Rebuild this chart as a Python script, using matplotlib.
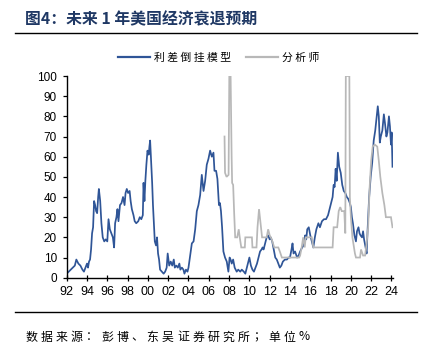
import matplotlib
matplotlib.use("Agg")
import matplotlib.pyplot as plt
from matplotlib.lines import Line2D
from matplotlib.font_manager import FontProperties
import numpy as np

# ---------------- data ----------------
model_years = [
    1992.0, 1992.2, 1992.4, 1992.6, 1992.8, 1992.95, 1993.15, 1993.35, 1993.55, 1993.7,
    1993.85, 1994.0, 1994.1, 1994.2, 1994.3, 1994.4, 1994.5, 1994.6, 1994.7, 1994.8,
    1994.9, 1995.0, 1995.1, 1995.17, 1995.3, 1995.42, 1995.55, 1995.7, 1995.85, 1996.0,
    1996.12, 1996.25, 1996.4, 1996.55, 1996.67, 1996.77, 1996.9, 1997.0, 1997.1, 1997.25,
    1997.4, 1997.55, 1997.7, 1997.8, 1997.92, 1998.05, 1998.2, 1998.3, 1998.42, 1998.58,
    1998.7, 1998.85, 1999.05, 1999.2, 1999.35, 1999.5, 1999.57, 1999.66, 1999.75, 1999.85,
    1999.96, 2000.08, 2000.15, 2000.22, 2000.32, 2000.42, 2000.5, 2000.58, 2000.68, 2000.8,
    2000.9, 2001.0, 2001.1, 2001.2, 2001.38, 2001.55, 2001.7, 2001.85, 2001.95, 2002.1,
    2002.25, 2002.4, 2002.55, 2002.65, 2002.8, 2002.95, 2003.1, 2003.2, 2003.35, 2003.5,
    2003.6, 2003.75, 2003.9, 2004.0, 2004.16, 2004.33, 2004.5, 2004.66, 2004.82, 2004.98,
    2005.15, 2005.31, 2005.48, 2005.64, 2005.8, 2005.97, 2006.13, 2006.3, 2006.46, 2006.56,
    2006.72, 2006.85, 2007.0, 2007.1, 2007.2, 2007.31, 2007.44, 2007.6, 2007.77, 2007.93,
    2008.05, 2008.15, 2008.26, 2008.4, 2008.55, 2008.75, 2008.9, 2009.1, 2009.25, 2009.45,
    2009.6, 2009.75, 2009.9, 2010.0, 2010.15, 2010.3, 2010.45, 2010.6, 2010.75, 2010.9,
    2011.05, 2011.2, 2011.3, 2011.4, 2011.55, 2011.7, 2011.85, 2012.0, 2012.1, 2012.25,
    2012.4, 2012.55, 2012.7, 2012.85, 2013.0, 2013.15, 2013.3, 2013.5, 2013.7, 2013.85,
    2014.0, 2014.15, 2014.25, 2014.35, 2014.5, 2014.7, 2014.85, 2015.0, 2015.2, 2015.35,
    2015.5, 2015.6, 2015.7, 2015.85, 2016.0, 2016.15, 2016.3, 2016.45, 2016.6, 2016.8,
    2016.95, 2017.15, 2017.35, 2017.55, 2017.75, 2017.9, 2018.1, 2018.2, 2018.3, 2018.4,
    2018.5, 2018.6, 2018.72, 2018.85, 2019.0, 2019.15, 2019.3, 2019.45, 2019.6, 2019.75,
    2019.9, 2020.0, 2020.1, 2020.2, 2020.35, 2020.5, 2020.6, 2020.75, 2020.85, 2020.95,
    2021.1, 2021.2, 2021.3, 2021.45, 2021.55, 2021.65, 2021.8, 2021.95, 2022.1, 2022.25,
    2022.4, 2022.55, 2022.65, 2022.75, 2022.85, 2022.95, 2023.1, 2023.25, 2023.35, 2023.5,
    2023.6, 2023.75, 2023.85, 2023.95, 2024.02, 2024.1,
]
model_values = [
    2, 3, 4, 5, 6, 9, 7, 6, 4, 3,
    5, 7, 5, 8, 9, 14, 22, 25, 38, 36,
    33, 32, 40, 44, 38, 27, 20, 18, 19, 18,
    29, 24, 22, 20, 15, 27, 30, 34, 28, 36,
    37, 40, 36, 42, 44, 42, 43, 38, 34, 31,
    28, 27, 28, 30, 29, 31, 47, 38, 48, 56,
    63, 61, 65, 68, 58, 47, 36, 28, 18, 16,
    20, 12, 9, 4, 3, 2, 3, 5, 12, 6,
    8, 6, 9, 5, 6, 5, 7, 4, 5, 4,
    2, 4, 3, 5, 11, 17, 18, 24, 33, 36,
    41, 51, 43, 48, 56, 59, 63, 60, 62, 53,
    53, 49, 36, 37, 33, 25, 13, 10, 8, 3,
    10, 9, 7, 9, 5, 3, 4, 3, 4, 3,
    2, 5, 8, 10, 6, 4, 3, 5, 7, 10,
    13, 14, 15, 14, 17, 20, 21, 19, 20, 18,
    14, 10, 9, 7, 5, 6, 8, 9, 9, 10,
    10, 14, 17, 12, 13, 10, 11, 13, 15, 16,
    21, 19, 24, 25, 21, 18, 15, 20, 24, 27,
    25, 28, 29, 29, 31, 34, 38, 40, 46, 45,
    54, 48, 62, 55, 52, 46, 43, 42, 40, 39,
    37, 35, 30, 27, 21, 18, 23, 25, 22, 21,
    20, 23, 19, 15, 12, 24, 40, 50, 57, 68,
    73, 80, 85, 80, 67, 70, 73, 81, 77, 70,
    72, 80, 75, 66, 72, 55,
]

analyst_years = [
    2007.55, 2007.6, 2007.75, 2007.95, 2008.02, 2008.15, 2008.25, 2008.3, 2008.4, 2008.5,
    2008.6, 2008.8, 2008.95, 2009.05, 2009.2, 2009.55, 2009.6, 2010.25, 2010.3, 2010.7,
    2010.8, 2010.95, 2011.1, 2011.25, 2011.7, 2011.85, 2012.0, 2012.2, 2012.45, 2012.85,
    2013.0, 2013.2, 2014.0, 2014.9, 2015.0, 2015.15, 2015.3, 2015.45, 2015.55, 2016.15,
    2016.3, 2018.2, 2018.3, 2018.65, 2018.8, 2018.95, 2019.1, 2019.35, 2019.45, 2019.5,
    2019.85, 2019.9, 2020.0, 2020.15, 2020.4, 2020.5, 2020.9, 2021.0, 2021.2, 2021.4,
    2021.55, 2021.7, 2021.85, 2022.0, 2022.15, 2022.35, 2022.6, 2022.75, 2022.9, 2023.1,
    2023.3, 2023.45, 2023.95, 2024.1,
]
analyst_values = [
    70, 52, 50, 51, 100, 100, 60, 47, 46, 32,
    20, 20, 24, 20, 15, 15, 20, 20, 15, 15,
    25, 34, 27, 20, 20, 24, 21, 19, 15, 15,
    13, 10, 10, 10, 11, 15, 20, 15, 20, 20,
    15, 15, 25, 25, 33, 35, 33, 33, 22, 100,
    100, 40, 30, 20, 12, 10, 10, 14, 11, 11,
    17, 25, 45, 58, 65, 66, 65, 58, 50, 42,
    36, 30, 30, 25,
]

x_ticks = list(range(1992, 2025, 2))
x_tick_labels = [f"{y % 100:02d}" for y in x_ticks]
y_ticks = list(range(0, 101, 10))

title = "图4：未来 1 年美国经济衰退预期"
footer = "数据来源：彭博、东吴证券研究所；单位%"
legend_labels = ["利 差 倒 挂 模 型", "分 析 师"]

# ---------------- figure ----------------
W, H = 422, 351
fig = plt.figure(figsize=(W / 100, H / 100), dpi=100)
fig.patch.set_facecolor("white")

def fx(px):
    return px / W

def fy(py):
    return 1 - py / H

left, right, top, bottom = 66.7, 393.0, 76.0, 277.7
ax = fig.add_axes([fx(left), fy(bottom), fx(right - left), (bottom - top) / H])

blue = "#2F5597"
grey = "#B8B8B8"
ax.plot(model_years, model_values, color=blue, lw=1.25, solid_joinstyle="round")
ax.plot(analyst_years, analyst_values, color=grey, lw=1.25, solid_joinstyle="miter")

ax.set_xlim(1992, 2024.15)
ax.set_ylim(0, 100)
ax.set_xticks(x_ticks)
ax.set_xticklabels(x_tick_labels)
ax.set_yticks(y_ticks)

for s in ["top", "right"]:
    ax.spines[s].set_visible(False)
for s in ["left", "bottom"]:
    ax.spines[s].set_linewidth(1.0)
    ax.spines[s].set_color("black")
ax.spines["bottom"].set_zorder(5)

ax.tick_params(axis="y", direction="out", length=3, width=0.9, pad=4,
               labelsize=8.5, colors="black")
ax.tick_params(axis="x", direction="inout", length=4.5, width=0.9, pad=4,
               labelsize=9, colors="black")
for lab in ax.get_xticklabels() + ax.get_yticklabels():
    lab.set_fontfamily("Liberation Sans")

# legend
cjk = FontProperties(family="Noto Sans CJK SC", size=7.8)
handles = [Line2D([], [], color=blue, lw=1.6), Line2D([], [], color=grey, lw=1.6)]
ax.legend(handles, legend_labels, loc="center", bbox_to_anchor=(fx(219), fy(57.5)),
          bbox_transform=fig.transFigure, ncol=2, frameon=False, prop=cjk,
          handlelength=2.9, handletextpad=0.4, columnspacing=1.4,
          borderpad=0, borderaxespad=0)

# title and rules
fig.text(fx(25), fy(19.5), title, fontsize=11.4, fontweight="bold", color="#1F3864",
         va="center", ha="left", family=["Noto Sans CJK SC", "DejaVu Sans"])
fig.add_artist(Line2D([fx(15), fx(417)], [fy(33.3), fy(33.3)], color="black", lw=1.0))
fig.add_artist(Line2D([fx(15), fx(417)], [fy(312.3), fy(312.3)], color="black", lw=1.0))

# footer, character by character to match wide spacing
pitch = 15.2
for i, ch in enumerate(footer):
    fig.text(fx(25 + i * pitch), fy(337), ch, fontsize=8.6, va="center", ha="left",
             color="black", family=["Noto Sans CJK SC", "DejaVu Sans"])

fig.savefig("out.png", dpi=100, facecolor="white")
